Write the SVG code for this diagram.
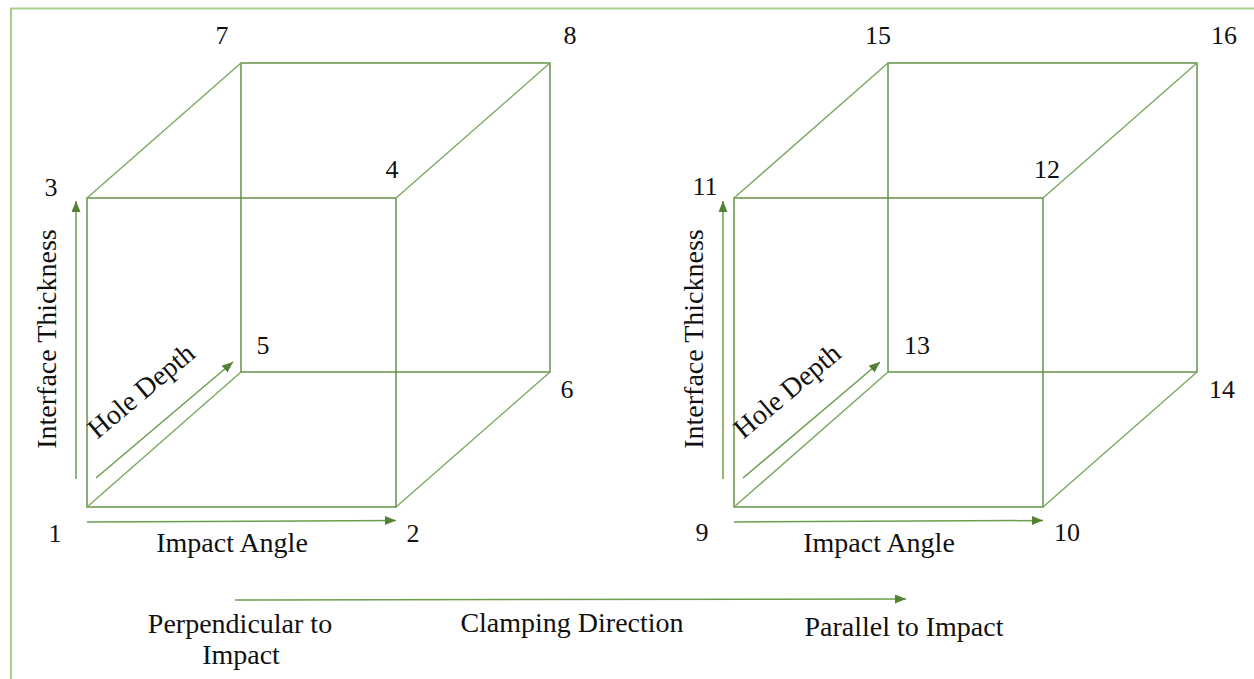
<svg xmlns="http://www.w3.org/2000/svg" width="1254" height="679" viewBox="0 0 1254 679">
<style>
.frame{stroke:#a9d18e;stroke-width:2.2;fill:none}
.edge{stroke:#5b8c3c;stroke-width:1.4;fill:none}
.diag{stroke:#7aa861;stroke-width:1.4;fill:none}
.arr{stroke:#6b9e4c;stroke-width:1.5;fill:none;marker-end:url(#ah)}
.num{font-family:"Liberation Serif","Times New Roman",serif;font-size:26px;fill:#111;text-anchor:middle}
.lab{font-family:"Liberation Serif","Times New Roman",serif;font-size:28px;fill:#111;text-anchor:middle}
</style>
<defs>
<marker id="ah" markerUnits="userSpaceOnUse" markerWidth="12" markerHeight="10" refX="11" refY="4.5" orient="auto">
<path d="M0,0 L11,4.5 L0,9 Z" fill="#548235"/>
</marker>
</defs>
<rect width="1254" height="679" fill="#fff"/>
<path class="frame" d="M11,679 V8.5 H1254"/>

<g id="cube1">
<rect class="edge" x="87" y="198" width="309" height="309"/>
<rect class="edge" x="241" y="63" width="309" height="309"/>
<line class="diag" x1="87" y1="198" x2="241" y2="63"/>
<line class="diag" x1="396" y1="198" x2="550" y2="63"/>
<line class="diag" x1="87" y1="507" x2="241" y2="372"/>
<line class="diag" x1="396" y1="507" x2="550" y2="372"/>
<text class="num" x="222" y="44">7</text>
<text class="num" x="570" y="44">8</text>
<text class="num" x="51" y="196">3</text>
<text class="num" x="392" y="178">4</text>
<text class="num" x="263" y="354">5</text>
<text class="num" x="567" y="398">6</text>
<text class="num" x="55" y="542">1</text>
<text class="num" x="413" y="542">2</text>
<text class="lab" x="232" y="552">Impact Angle</text>
<text class="lab" transform="translate(56,339) rotate(-90)">Interface Thickness</text>
<text class="lab" transform="translate(147,398) rotate(-40)">Hole Depth</text>
</g>

<g id="cube2">
<rect class="edge" x="734" y="198" width="309" height="309"/>
<rect class="edge" x="888" y="63" width="309" height="309"/>
<line class="diag" x1="734" y1="198" x2="888" y2="63"/>
<line class="diag" x1="1043" y1="198" x2="1197" y2="63"/>
<line class="diag" x1="734" y1="507" x2="888" y2="372"/>
<line class="diag" x1="1043" y1="507" x2="1197" y2="372"/>
<text class="num" x="878" y="44">15</text>
<text class="num" x="1224" y="44">16</text>
<text class="num" x="705" y="195">11</text>
<text class="num" x="1047" y="178">12</text>
<text class="num" x="917" y="354">13</text>
<text class="num" x="1222" y="398">14</text>
<text class="num" x="702" y="541">9</text>
<text class="num" x="1067" y="541">10</text>
<text class="lab" x="879" y="552">Impact Angle</text>
<text class="lab" transform="translate(703,339) rotate(-90)">Interface Thickness</text>
<text class="lab" transform="translate(793,398) rotate(-40)">Hole Depth</text>
</g>

<g id="clamping">
<text class="lab" x="240" y="633">Perpendicular to</text>
<text class="lab" x="241" y="664">Impact</text>
<text class="lab" x="572" y="632">Clamping Direction</text>
<text class="lab" x="904" y="636">Parallel to Impact</text>
</g>

<g id="connectors">
<line class="arr" x1="76" y1="479" x2="76" y2="201"/>
<line class="arr" x1="87" y1="522" x2="396" y2="520.5"/>
<line class="arr" x1="96" y1="478" x2="233" y2="362"/>
<line class="arr" x1="723" y1="479" x2="723" y2="201"/>
<line class="arr" x1="734" y1="522" x2="1043" y2="520.5"/>
<line class="arr" x1="743" y1="478" x2="880" y2="362"/>
<line class="arr" x1="235" y1="600" x2="906" y2="599"/>
</g>
</svg>
